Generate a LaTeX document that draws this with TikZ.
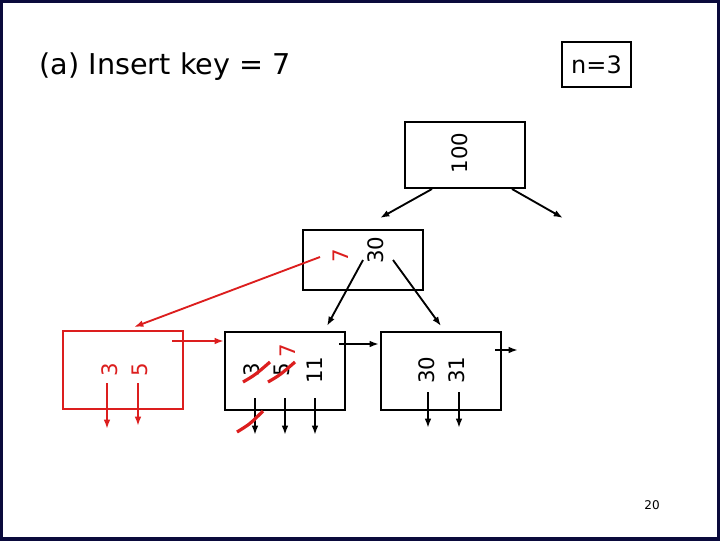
\documentclass[tikz,border=0pt]{standalone}
\usepackage{fontspec}
\setmainfont{DejaVu Sans}
\usetikzlibrary{arrows.meta}
\definecolor{rd}{RGB}{220,30,30}
\begin{document}
\begin{tikzpicture}[x=0.75pt,y=-0.75pt,
 box/.style={draw,line width=0.9pt},
 key/.style={rotate=90,font=\fontsize{16}{16}\selectfont,inner sep=0pt},
 ar/.style={-{Latex[length=7pt,width=5pt]},line width=1.4pt}]
\useasboundingbox (0,0) rectangle (720,540);
\fill[white] (0,0) rectangle (720,540);
\draw[line width=2.5pt,color={rgb,255:red,10;green,10;blue,60}] (1,1) rectangle (719,539);
\node[anchor=west,font=\fontsize{21.5}{24}\selectfont] (title) at (35,67) {(a) Insert key = 7};
\node[draw,line width=1.8pt,minimum width=69*0.75pt,minimum height=45*0.75pt,font=\fontsize{18}{20}\selectfont] (n) at (596.5,64.5) {n=3};
\node[font=\fontsize{9}{10}\selectfont] (pg) at (652,505) {20};
% boxes
\draw[box] (405,122) rectangle (525,188);
\draw[box] (303,230) rectangle (423,290);
\draw[box,rd] (63,331) rectangle (183,409);
\draw[box] (225,332) rectangle (345,410);
\draw[box] (381,332) rectangle (501,410);
% keys
\node[key] (k100) at (460,153) {100};
\node[key,rd] (k7u) at (341,256) {7};
\node[key] (k30u) at (376,250) {30};
\node[key,rd] (k3r) at (110,370) {3};
\node[key,rd] (k5r) at (140,370) {5};
\node[key] (k3m) at (252,370) {3};
\node[key] (k5m) at (282,370) {5};
\node[key,rd] (k7m) at (288,351) {7};
\node[key] (k11) at (315,370) {11};
\node[key] (k30) at (427,370) {30};
\node[key] (k31) at (457,370) {31};
% coordinates
\coordinate (t1) at (432,189); \coordinate (t1e) at (380,218);
\coordinate (t2) at (512,189); \coordinate (t2e) at (563,218);
\draw[ar] (t1) -- (t1e);
\draw[ar] (t2) -- (t2e);
\coordinate (u1) at (363,260); \coordinate (u1e) at (327,326);
\coordinate (u2) at (393,260); \coordinate (u2e) at (441,326);
\draw[ar] (u1) -- (u1e);
\draw[ar] (u2) -- (u2e);
\coordinate (rs) at (320,257); \coordinate (re) at (134,327);
\draw[ar,rd] (rs) -- (re);
\coordinate (l1) at (172,341); \coordinate (l1e) at (224,341);
\draw[ar,rd] (l1) -- (l1e);
\coordinate (l2) at (339,344); \coordinate (l2e) at (379,344);
\draw[ar] (l2) -- (l2e);
\coordinate (l3) at (495,350); \coordinate (l3e) at (518,350);
\draw[ar] (l3) -- (l3e);
\foreach \x/\a/\b in {107/383/429,138/383/426}{\draw[ar,rd] (\x,\a) -- (\x,\b);}
\foreach \x in {255,285,315}{\draw[ar] (\x,398) -- (\x,435);}
\foreach \x in {428,459}{\draw[ar] (\x,392) -- (\x,428);}
% strike marks
\draw[rd,line width=2.4pt] (243,382) .. controls (255,375) .. (270,362);
\draw[rd,line width=2.4pt] (268,382) .. controls (280,375) .. (295,362);
\draw[rd,line width=2.4pt] (237,432) .. controls (250,424) .. (263,411);
\end{tikzpicture}
\end{document}
